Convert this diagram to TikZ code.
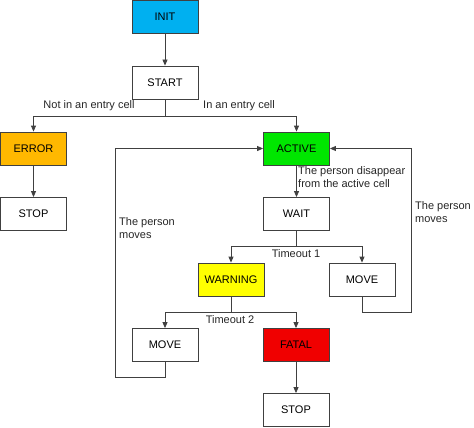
\documentclass[tikz,border=0pt]{standalone}
\usepackage{fontspec}
\setmainfont{Liberation Sans}
\usetikzlibrary{arrows.meta}
\begin{document}
\begin{tikzpicture}[x=1pt,y=-1pt,
  box/.style={draw=black!75,line width=0.8pt,minimum width=66pt,minimum height=33pt,inner sep=0pt,font=\fontsize{11}{13}\selectfont},
  conn/.style={draw=black!75,line width=0.8pt},
  arr/.style={conn,-{Triangle[length=6pt,width=5pt]}},
  lbl/.style={font=\fontsize{11}{13}\selectfont,inner sep=0pt,text=black!85}]
\useasboundingbox (0,0) rectangle (474,428);
\node[box,fill={rgb,255:red,0;green,176;blue,240}] (init) at (165,17) {INIT};
\node[box,fill=white] (start) at (165,82.5) {START};
\node[box,fill={rgb,255:red,255;green,184;blue,0}] (error) at (33.5,148.5) {ERROR};
\node[box,fill=white] (stop1) at (33.5,214) {STOP};
\node[box,fill={rgb,255:red,0;green,230;blue,0}] (active) at (296.5,148.5) {ACTIVE};
\node[box,fill=white] (wait) at (296.5,214) {WAIT};
\node[box,fill={rgb,255:red,255;green,255;blue,0}] (warning) at (231,279.5) {WARNING};
\node[box,fill=white] (move2) at (362,279.5) {MOVE};
\node[box,fill=white] (move1) at (165,345) {MOVE};
\node[box,fill={rgb,255:red,240;green,0;blue,0}] (fatal) at (296,345) {FATAL};
\node[box,fill=white] (stop2) at (296,410) {STOP};

\draw[arr] (init) -- (start);
\coordinate (s1) at (165,116);
\draw[conn] (start) -- (s1);
\draw[arr] (s1) -| (error);
\draw[arr] (s1) -| (active);
\node[lbl] (l1) at (89,106) {Not in an entry cell};
\node[lbl] (l2) at (239,106) {In an entry cell};
\draw[arr] (error) -- (stop1);
\draw[arr] (active) -- (wait);
\node[lbl,anchor=north west,align=left] (l3) at (298,166) {The person disappear\\from the active cell};
\coordinate (s2) at (296.5,246.5);
\draw[conn] (wait) -- (s2);
\draw[arr] (s2) -| (warning);
\draw[arr] (s2) -| (move2);
\node[lbl] (l4) at (296,254) {Timeout 1};
\coordinate (s3) at (231,312);
\draw[conn] (warning) -- (s3);
\draw[arr] (s3) -| (move1);
\draw[arr] (s3) -| (fatal);
\node[lbl] (l5) at (230,320) {Timeout 2};
\draw[arr] (fatal) -- (stop2);
\coordinate (c1) at (165,377.5);
\coordinate (c2) at (115.5,377.5);
\draw[arr] (move1) -- (c1) -- (c2) |- (active);
\coordinate (c3) at (362,312);
\coordinate (c4) at (411.5,312);
\draw[arr] (move2) -- (c3) -- (c4) |- (active);
\node[lbl,anchor=north west,align=left] (l6) at (119,217) {The person\\moves};
\node[lbl,anchor=north west,align=left] (l7) at (415,201) {The person\\moves};
\end{tikzpicture}
\end{document}
